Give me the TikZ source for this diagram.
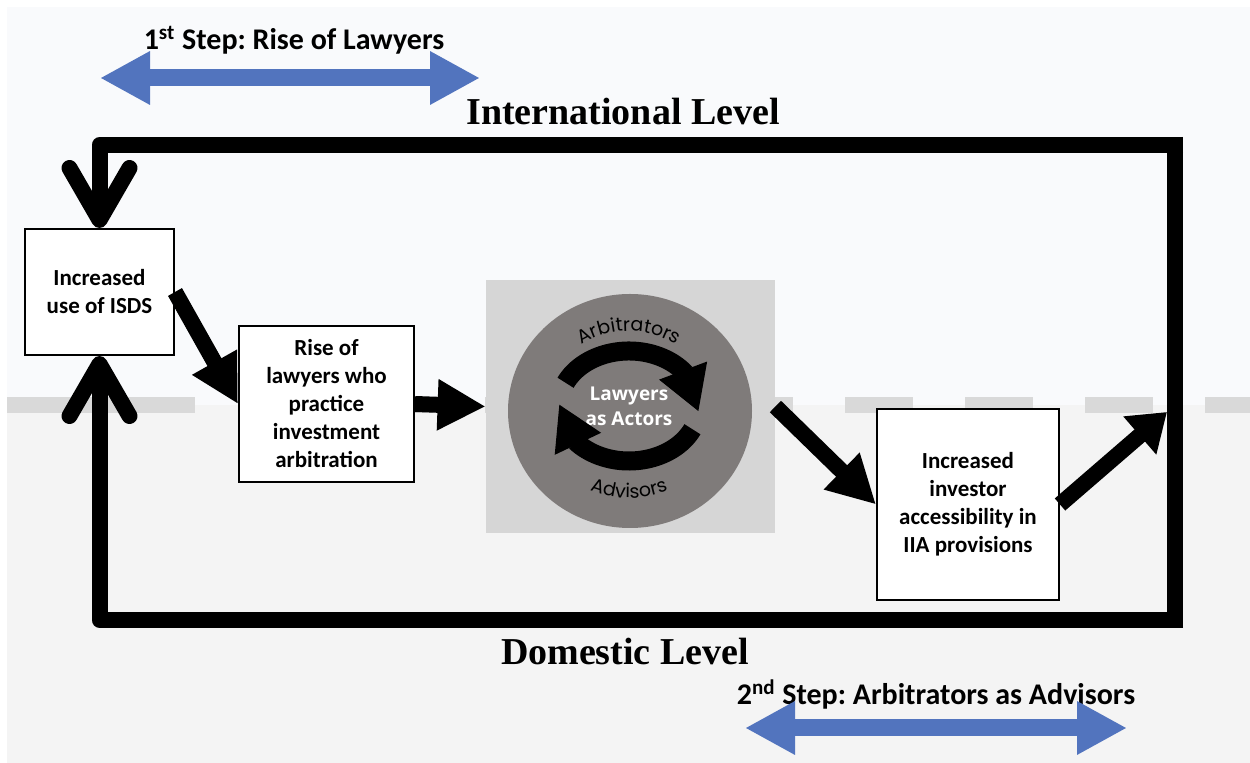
\documentclass[tikz,border=0pt]{standalone}
\usepackage{fontspec}
\setmainfont{Carlito}
\newfontfamily\levelfont{Liberation Serif}
\newfontfamily\ringfont{Poppins}
\newfontfamily\hubfont{Open Sans}
\usetikzlibrary{arrows.meta,bending,decorations.text}
\frenchspacing

\definecolor{intlbg}{HTML}{F9FAFC}
\definecolor{domesticbg}{HTML}{F4F4F4}
\definecolor{dividergray}{HTML}{D9D9D9}
\definecolor{panelgray}{HTML}{D6D6D6}
\definecolor{discgray}{HTML}{7F7B7A}
\definecolor{stepblue}{HTML}{5274BE}

\begin{document}
\begin{tikzpicture}[x=0.5pt,y=0.5pt,
    box/.style={draw=black, line width=1pt, fill=white, align=center, inner sep=2pt,
        font=\bfseries\fontsize{11.5}{14}\selectfont},
    flow/.style={line width=8pt, -{Triangle[length=24pt,width=24pt]}},
    loopline/.style={line width=8pt, line join=round,
        -{Straight Barb[length=26pt,width=30pt,round]}},
    steparrow/.style={stepblue, line width=8.5pt,
        {Triangle[length=25pt,width=25pt]}-{Triangle[length=25pt,width=25pt]}},
    levellabel/.style={anchor=base, font=\levelfont\bfseries\fontsize{19}{22}\selectfont},
    steplabel/.style={anchor=base, font=\bfseries\fontsize{15}{18}\selectfont},
    cyclearrow/.style={line width=9.5pt, -{Triangle[length=22pt,width=24pt]}},
    ringtext/.style={decorate, decoration={text along path, text align=center,
        text={|\ringfont\fontsize{9.5}{10}\selectfont|#1}}}
  ]
    \useasboundingbox (0,0) rectangle (1250,-763);

    % two levels and the dashed border between them
    \fill[white] (0,0) rectangle (1250,-763);
    \fill[intlbg] (7,-7) rectangle (1250,-405);
    \fill[domesticbg] (7,-405) rectangle (1250,-763);
    \draw[dividergray, line width=8pt] (7,-405) -- (195,-405);
    \draw[dividergray, line width=8pt, dash pattern=on 34pt off 26pt] (245,-405) -- (1250,-405);

    % step labels
    \node[steplabel] (step1) at (294,-50) {1\textsuperscript{st} Step: Rise of Lawyers};
    \coordinate (s1a) at (100,-78);
    \coordinate (s1b) at (480,-78);
    \draw[steparrow] (s1a) -- (s1b);

    \node[steplabel] (step2) at (936,-705) {2\textsuperscript{nd} Step: Arbitrators as Advisors};
    \coordinate (s2a) at (745,-728);
    \coordinate (s2b) at (1127,-728);
    \draw[steparrow] (s2a) -- (s2b);

    \node[levellabel] (intl) at (623,-125) {International Level};
    \node[levellabel] (dom) at (625,-665) {Domestic Level};

    % boxes
    \node[box, minimum width=74.5pt, minimum height=63pt] (isds) at (99.5,-292)
        {Increased\\use of ISDS};
    \node[box, minimum width=87.5pt, minimum height=78pt] (lawyers) at (326.5,-404)
        {Rise of\\lawyers who\\practice\\investment\\arbitration};
    \node[box, minimum width=91pt, minimum height=95.5pt] (access) at (968,-504.5)
        {Increased\\investor\\accessibility in\\IIA provisions};

    % lawyers as actors
    \node[fill=panelgray, minimum width=144.5pt, minimum height=126.5pt, inner sep=0] (actors)
        at (630.5,-406.5) {};
    \fill[discgray] (630,-411) ellipse [x radius=122, y radius=117];
    \node[white, align=center, font=\hubfont\bfseries\fontsize{9.5}{12.5}\selectfont] (hub)
        at (629,-406) {Lawyers\\as Actors};
    \draw[cyclearrow] ([shift={(155:70 and 55)}]hub.center)
        arc [start angle=155, end angle=-6, x radius=70, y radius=55];
    \draw[cyclearrow] ([shift={(-25:70 and 55)}]hub.center)
        arc [start angle=-25, end angle=-182, x radius=70, y radius=55];
    \path[ringtext=Arbitrators]
        ([shift={(150:82 and 75)}]hub.center) arc [start angle=150, end angle=30, x radius=82, y radius=75];
    \path[ringtext=Advisors]
        ([shift={(205:100 and 92)}]hub.center) arc [start angle=205, end angle=335, x radius=100, y radius=92];

    % flow between the boxes
    \coordinate (jn) at (1167,-412);
    \draw[flow] (isds.east) -- (lawyers.west);
    \draw[flow] (lawyers.east) -- (actors.west);
    \draw[flow] (actors.east) -- (access.west);
    \draw[line width=8pt, -{Triangle[length=18pt,width=24pt]}] (access.east) -- (jn);

    % the loop back to ISDS
    \coordinate (tr) at (1175,-137);
    \coordinate (br) at (1175,-628);
    \coordinate (ne) at (1183,-145);
    \coordinate (se) at (1183,-620);
    \draw[line width=8pt] (tr) -- (br);
    \draw[loopline] (ne) -| (isds.north);
    \draw[loopline] (se) -| (isds.south);
\end{tikzpicture}
\end{document}
